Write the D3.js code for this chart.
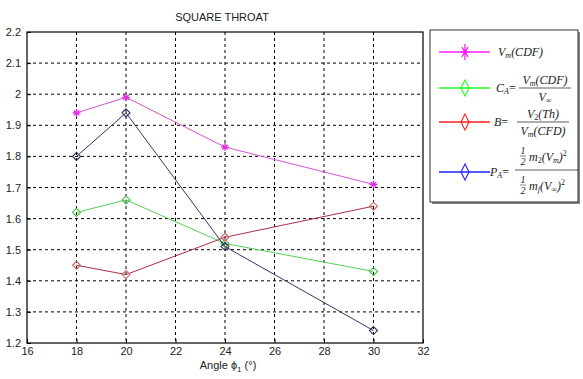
<!DOCTYPE html>
<html><head><meta charset="utf-8">
<script src="https://cdn.jsdelivr.net/npm/d3@7"></script>
<style>
body{margin:0;background:#fff;}
svg{display:block;}
text{font-family:Arial,"Liberation Sans",sans-serif;}
.m{font-family:"Liberation Serif","Times New Roman",serif;font-style:italic;fill:#222;}
</style></head>
<body><svg id="c" width="583" height="379"></svg>
<script>
const angles = [18, 20, 24, 30];
const vmCdf = [1.94, 1.99, 1.83, 1.71];
const caVals = [1.62, 1.66, 1.52, 1.43];
const bVals = [1.45, 1.42, 1.54, 1.64];
const paVals = [1.80, 1.94, 1.51, 1.24];
const xTicks = [16, 18, 20, 22, 24, 26, 28, 30, 32];
const yTicks = [1.2, 1.3, 1.4, 1.5, 1.6, 1.7, 1.8, 1.9, 2.0, 2.1, 2.2];
const titleText = "SQUARE THROAT";

const series = [
  {vals: vmCdf, line: "#d055d0", mark: "#e030e0", shape: "star", leg: "#ff20ff"},
  {vals: caVals, line: "#55d055", mark: "#40c040", shape: "diamond", leg: "#20ff20"},
  {vals: bVals, line: "#a8304a", mark: "#d06868", shape: "diamond", leg: "#ff2020"},
  {vals: paVals, line: "#34346e", mark: "#2a2a55", shape: "diamond", leg: "#2020ff"}
];

const svg = d3.select("#c");
const L = 27, R = 423, T = 32, B = 343;
const x = d3.scaleLinear().domain([16, 32]).range([L, R]);
const y = d3.scaleLinear().domain([1.2, 2.2]).range([B, T]);

// grid
const g = svg.append("g");
g.selectAll(".vg").data(xTicks.slice(1, -1)).enter().append("line")
  .attr("x1", d => x(d)).attr("x2", d => x(d)).attr("y1", T).attr("y2", B)
  .attr("stroke", "#000").attr("stroke-width", 1).attr("stroke-dasharray", "3,3");
g.selectAll(".hg").data(yTicks.slice(1, -1)).enter().append("line")
  .attr("y1", d => y(d)).attr("y2", d => y(d)).attr("x1", L).attr("x2", R)
  .attr("stroke", "#000").attr("stroke-width", 1).attr("stroke-dasharray", "3,3");

// axes
const xa = svg.append("g").attr("transform", `translate(0,${B})`)
  .call(d3.axisBottom(x).tickValues(xTicks).tickSize(-4).tickPadding(4).tickFormat(d3.format("d")));
const ya = svg.append("g").attr("transform", `translate(${L},0)`)
  .call(d3.axisLeft(y).tickValues(yTicks).tickSize(-4).tickPadding(6).tickFormat(d => d3.format("")(+d.toFixed(1))));
[xa, ya].forEach(a => {
  a.select(".domain").remove();
  a.selectAll("text").attr("font-size", 11).attr("fill", "#222").attr("font-family", "Arial, 'Liberation Sans', sans-serif");
  a.selectAll("line").attr("stroke", "#000");
});
svg.append("rect").attr("x", L).attr("y", T).attr("width", R - L).attr("height", B - T)
  .attr("fill", "none").attr("stroke", "#000").attr("stroke-width", 1.2);

// markers
function marker(sel, shape, cx, cy, color, w, h) {
  if (shape === "star") {
    const p = `M${cx - w/2},${cy}L${cx + w/2},${cy}M${cx},${cy - h/2}L${cx},${cy + h/2}` +
      `M${cx - w*0.35},${cy - h*0.3}L${cx + w*0.35},${cy + h*0.3}M${cx - w*0.35},${cy + h*0.3}L${cx + w*0.35},${cy - h*0.3}`;
    sel.append("path").attr("d", p).attr("stroke", color).attr("stroke-width", 1.3).attr("fill", "none");
  } else {
    const p = `M${cx},${cy - h/2}L${cx + w/2},${cy}L${cx},${cy + h/2}L${cx - w/2},${cy}Z`;
    sel.append("path").attr("d", p).attr("stroke", color).attr("stroke-width", 1.1).attr("fill", "none");
  }
}

const line = d3.line().x(d => x(d[0])).y(d => y(d[1]));
series.forEach(s => {
  const pts = angles.map((a, i) => [a, s.vals[i]]);
  svg.append("path").attr("d", line(pts)).attr("fill", "none").attr("stroke", s.line).attr("stroke-width", 1);
  const mg = svg.append("g");
  pts.forEach(p => marker(mg, s.shape, x(p[0]), y(p[1]), s.mark, 8, 8));
});

// title and label
svg.append("text").attr("x", (L + R) / 2 - 3).attr("y", 21).attr("text-anchor", "middle")
  .attr("font-size", 11).attr("fill", "#222").text(titleText);
const xl = svg.append("text").attr("x", 228).attr("y", 369).attr("text-anchor", "middle")
  .attr("font-size", 11).attr("fill", "#222");
xl.append("tspan").text("Angle ");
xl.append("tspan").text("ϕ");
xl.append("tspan").attr("font-size", 8).attr("dy", 3).text("1");
xl.append("tspan").attr("dy", -3).text(" (°)");

// legend
const lg = svg.append("g");
lg.append("rect").attr("x", 432).attr("y", 32).attr("width", 148).attr("height", 172).attr("fill", "#888");
lg.append("rect").attr("x", 430).attr("y", 30).attr("width", 148).attr("height", 172)
  .attr("fill", "#fff").attr("stroke", "#333").attr("stroke-width", 1);
const legY = [52, 88, 122, 172];
series.forEach((s, i) => {
  lg.append("line").attr("x1", 439).attr("x2", 490).attr("y1", legY[i]).attr("y2", legY[i])
    .attr("stroke", s.leg).attr("stroke-width", 1.6);
  marker(lg, s.shape, 465, legY[i], s.leg, s.shape === "star" ? 9 : 8, 16);
});

function mt(xp, yp, parts, size, anchor) {
  const t = lg.append("text").attr("class", "m").attr("x", xp).attr("y", yp)
    .attr("font-size", size).attr("text-anchor", anchor || "start");
  parts.forEach(p => {
    const ts = t.append("tspan").text(p[0]);
    if (p[1]) ts.attr("dy", p[1]);
    if (p[2]) ts.attr("font-size", p[2]);
    if (p[3]) ts.attr("font-style", p[3]);
  });
  return t;
}
function bar(x1, x2, yp) {
  lg.append("line").attr("x1", x1).attr("x2", x2).attr("y1", yp).attr("y2", yp).attr("stroke", "#333").attr("stroke-width", 0.8);
}
// entry 1
mt(498, 56, [["V"], ["m", 2, 8], ["(CDF)", -2]], 12);
// entry 2
mt(496, 92, [["C"], ["A", 2, 8], ["=", -2, null, "normal"]], 12);
bar(519, 571, 88);
mt(545, 84, [["V"], ["m", 2, 8], ["(CDF)", -2]], 12, "middle");
mt(545, 101, [["V"], ["∞", 2, 8]], 12, "middle");
// entry 3
mt(494, 126, [["B"], ["=", 0, null, "normal"]], 12);
bar(517, 569, 122);
mt(543, 118, [["V"], ["2", 2, 8, "normal"], ["(Th)", -2]], 12, "middle");
mt(543, 135, [["V"], ["m", 2, 8], ["(CFD)", -2]], 12, "middle");
// entry 4
mt(490, 176, [["P"], ["A", 2, 8], ["=", -2, null, "normal"]], 12);
bar(515, 578, 170);
function half(cx, cy) {
  lg.append("text").attr("class", "m").attr("x", cx).attr("y", cy - 3).attr("font-size", 10)
    .attr("text-anchor", "middle").attr("font-style", "normal").text("1");
  lg.append("line").attr("x1", cx - 3).attr("x2", cx + 3).attr("y1", cy - 1).attr("y2", cy - 1).attr("stroke", "#333").attr("stroke-width", 0.6);
  lg.append("text").attr("class", "m").attr("x", cx).attr("y", cy + 8).attr("font-size", 10)
    .attr("text-anchor", "middle").attr("font-style", "normal").text("2");
}
half(523, 157);
mt(529, 161, [["m"], ["2", 2, 8, "normal"], ["(V", -2], ["m", 2, 8], [")", -2], ["2", -5, 8, "normal"]], 12);
half(523, 186);
mt(529, 190, [["m"], ["f", 2, 8], ["(V", -2], ["∞", 2, 8], [")", -2], ["2", -5, 8, "normal"]], 12);
</script></body></html>
